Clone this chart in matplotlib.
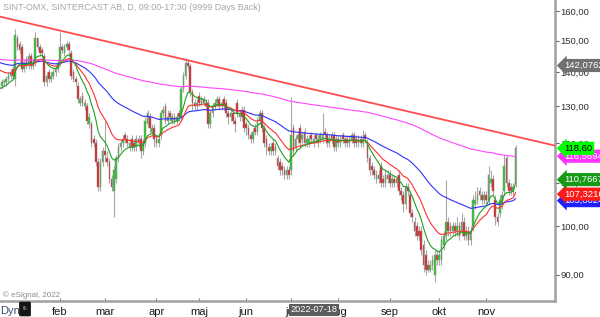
import matplotlib
matplotlib.use('Agg')
import matplotlib.pyplot as plt
import matplotlib.transforms as mtransforms
from matplotlib.patches import FancyBboxPatch
import numpy as np

plt.rcParams['font.family'] = ['Liberation Sans', 'DejaVu Sans']

# daily candles SINT (late Dec 2021 -> 18 Nov 2022)
opens = [135, 136, 137, 137, 138, 139, 141, 138, 151, 149,
         148, 141, 144, 142, 145, 142, 143, 151, 148, 147,
         145, 137, 140, 138, 139, 140, 141, 143, 148, 146,
         148, 149, 146, 140, 138, 136, 131, 133, 130, 130,
         125, 125, 121, 120, 115, 109, 115, 118, 116, 115,
         111, 108, 111, 116, 119, 120, 122, 121, 119, 121,
         120, 119, 121, 121, 118, 120, 125, 127, 123, 124,
         121, 120, 122, 128, 130, 126, 128, 126, 127, 126,
         128, 127, 135, 139, 143, 142, 134, 131, 130, 133,
         131, 132, 131, 131, 125, 128, 130, 131, 132, 130,
         132, 131, 128, 127, 128, 126, 131, 127, 129, 129,
         125, 124, 122, 121, 124, 123, 126, 128, 124, 121,
         119, 118, 120, 118, 116, 115, 114, 113, 112, 113,
         113, 124, 119, 121, 124, 121, 123, 120, 120, 122,
         120, 122, 120, 121, 121, 123, 122, 120, 122, 122,
         119, 121, 120, 122, 121, 121, 120, 121, 122, 121,
         120, 121, 120, 122, 120, 116, 114, 113, 111, 112,
         114, 111, 110, 112, 112, 110, 111, 111, 112, 108,
         107, 105, 109, 107, 103, 101, 100, 99, 99, 96,
         94, 92, 91, 92, 90, 94, 93, 93, 96, 98,
         101, 100, 99, 100, 99, 100, 99, 101, 98, 99,
         97, 100, 105, 106, 108, 107, 106, 107, 106, 110,
         111, 106, 102, 103, 105, 108, 116, 110, 109, 108,
         110]
highs = [137, 138, 138, 139, 140, 141, 142, 154, 152, 150,
         149, 144, 145, 146, 146, 144, 153, 151, 149, 148,
         146, 140, 141, 140, 141, 142, 144, 153, 149, 149,
         150, 150, 147, 141, 139, 137, 133, 134, 132, 131,
         128, 126, 122, 121, 116, 116, 119, 126, 118, 116,
         112, 114, 117, 120, 121, 122, 123, 122, 121, 122,
         121, 122, 122, 122, 121, 127, 129, 128, 125, 125,
         122, 122, 129, 130, 131, 129, 129, 128, 128, 128,
         129, 136, 140, 144.5, 144, 143, 135, 132, 132, 134,
         133, 133, 132, 132, 129, 131, 132, 133, 133, 132,
         133, 132, 129, 129, 129, 127, 132, 129, 130, 130,
         126, 125, 123, 124, 125, 127, 129, 129, 125, 122,
         120, 120, 121, 120, 117, 116, 115, 114, 114, 114,
         132.5, 125, 122, 123, 125, 123, 124, 122, 122, 123,
         122, 123, 122, 123, 128, 124, 123, 122, 123, 123,
         122, 122, 122, 123, 122, 122, 122, 123, 123, 122,
         122, 122, 123.5, 123, 121, 117, 115, 114, 113, 113,
         115, 112, 113, 113, 113, 112, 112, 112, 113, 109,
         108, 110, 110, 108, 104, 102, 101, 100, 100, 97,
         95, 93, 93, 94, 95, 95, 95, 98, 99, 110.7,
         102, 101, 101, 101, 102, 101, 103, 102, 100, 100,
         100, 107, 108, 109, 109, 108, 108, 108, 114, 113,
         112, 107, 103, 107, 108, 117, 117, 111, 110, 110,
         119.5]
lows = [134, 135, 136, 136, 137, 138, 138, 136, 147, 146,
        140, 140, 141, 141, 141, 141, 142, 147, 145, 145,
        136, 136, 137, 137, 138, 139, 140, 142, 146, 145,
        147, 146, 138, 137, 136, 131, 130, 130, 129, 125,
        124, 119, 119, 114, 108, 108, 114, 115, 114, 110,
        108, 102, 110, 115, 118, 119, 120, 119, 118, 118,
        118, 118, 119, 116, 117, 119, 124, 123, 122, 119,
        119, 119, 121, 127, 125, 125, 126, 125, 125, 125,
        126, 126, 134, 138, 141, 133, 129, 129, 129, 130,
        130, 130, 129, 124, 124, 127, 129, 130, 129, 129,
        129, 127, 125, 126, 125, 123, 127, 126, 126, 123,
        122, 121, 120, 120, 122, 122, 125, 123, 119, 117,
        117, 117, 117, 117, 113, 112, 112, 111, 111, 111,
        112, 117, 118, 120, 119, 120, 119, 119, 119, 120,
        119, 120, 119, 120, 120, 121, 119, 119, 120, 118,
        118, 119, 119, 120, 119, 119, 119, 120, 119, 119,
        119, 119, 119, 120, 115, 112, 112, 111, 110, 110,
        109, 109, 109, 110, 109, 109, 109, 109, 107, 106,
        103.3, 104, 107, 102, 101, 98, 97, 97, 94, 90.5,
        90, 90.5, 90.5, 91, 88.6, 92, 92, 92, 95, 97,
        98, 98, 98, 98, 98, 97, 98, 97, 97, 96,
        96, 99, 104, 105, 106, 105, 105, 105, 105, 109,
        107, 100.3, 100, 102, 104, 107, 109, 107, 107, 107,
        109]
closes = [136, 137, 137, 138, 139, 140, 139, 152, 148, 147,
          141, 143, 142, 145, 142, 143, 151, 148, 146, 146,
          137, 139, 138, 139, 140, 141, 143, 148, 147, 148,
          149, 147, 139, 138, 137, 132, 132, 131, 131, 126,
          127, 120, 120, 115, 109, 115, 118, 117, 115, 111,
          109, 113, 116, 119, 120, 121, 121, 120, 120, 119,
          119, 121, 120, 118, 120, 126, 128, 124, 124, 121,
          120, 121, 128, 129, 126, 127, 127, 127, 126, 127,
          127, 135, 139, 143, 142, 134, 131, 130, 131, 131,
          132, 131, 130, 125, 128, 130, 131, 132, 130, 131,
          130, 128, 127, 128, 126, 125, 128, 128, 127, 124,
          124, 122, 121, 123, 123, 126, 128, 124, 120, 119,
          118, 119, 118, 119, 114, 113, 113, 112, 113, 112,
          122, 118, 121, 122, 120, 122, 120, 121, 121, 121,
          121, 121, 121, 122, 122, 122, 120, 121, 121, 119,
          121, 120, 121, 121, 120, 120, 121, 122, 120, 120,
          121, 120, 121, 121, 116, 113, 113, 112, 112, 111,
          110, 110, 112, 111, 110, 111, 110, 110, 108, 107,
          105, 109, 108, 103, 102, 99, 98, 98, 95, 92,
          91, 91, 92, 93, 94, 93, 94, 97, 98, 101,
          99, 99, 100, 99, 100, 98, 101, 98, 99, 97,
          99, 106, 106, 107, 107, 106, 107, 106, 112, 111,
          108, 102, 101, 106, 107, 114, 110, 108, 108, 109,
          118.6]

month_names = ['feb', 'mar', 'apr', 'maj', 'jun', 'jul', 'aug', 'sep', 'okt', 'nov']
month_start = [27, 47, 70, 89, 110, 130, 151, 174, 196, 217]  # bar index of 1st trading day

# moving averages (EMA), start values read at the first bar
ma_spans = [200, 55, 20, 10]
ma_start = [144.0, 143.0, 140.7, 135.0]
ma_colors = ['#ff44ff', '#3030ff', '#ff3030', '#20a020']

# resistance line, two anchor points
trend_x = [0, 247.6]
trend_y = [158.1, 119.3]

# price tags at the right edge
tag_values = [105.80249, 107.32169, 110.76679, 116.56944, 118.60, 142.07620]
tag_texts = ['105,80249', '107,32169', '110,76679', '116,56944', '118,60', '142,07620']
tag_colors = ['#2020ff', '#ff1a1a', '#169a16', '#ff33ff', '#00ff00', '#707070']
tag_fg = ['white', 'white', 'white', 'white', 'black', 'white']

yticks = [90, 100, 110, 120, 130, 140, 150, 160]


def ema(values, span, start):
    a = 2.0 / (span + 1)
    out = [start]
    for v in values[1:]:
        out.append(out[-1] + a * (v - out[-1]))
    return np.array(out)


o = np.array(opens, float)
h = np.array(highs, float)
l = np.array(lows, float)
c = np.array(closes, float)
idx = np.arange(len(c))

fig = plt.figure(figsize=(6, 3.17), dpi=100)
ax = fig.add_axes([0, 16 / 317, 555 / 600, 301 / 317])
ax.set_yscale('log')
ax.set_xlim(0.26, 247.6)
ax.set_ylim(85.0, 163.9)

# candles
ax.vlines(idx, l, h, color='#a8a8a8', lw=0.8, zorder=2)
body_col = np.where(c >= o, '#2ec82e', '#e02020')
bot = np.minimum(o, c)
hgt = np.maximum(np.abs(c - o), 0.3)
ax.bar(idx, hgt, bottom=bot, width=0.75, color=body_col,
       edgecolor='#8c8c8c', linewidth=0.35, zorder=3)

for span, s0, col in zip(ma_spans, ma_start, ma_colors):
    ax.plot(idx, ema(c, span, s0), color=col, lw=0.8, zorder=4)

ax.plot(trend_x, trend_y, color='#ff4c4c', lw=1.3, zorder=5)

# axes styling
for side in ['top', 'left']:
    ax.spines[side].set_visible(False)
for side in ['right', 'bottom']:
    ax.spines[side].set_color('#a0a0a0')
    ax.spines[side].set_linewidth(1.8)
ax.yaxis.tick_right()
ax.set_yticks(yticks)
ax.set_yticklabels(['%d,00' % v for v in yticks])
ax.yaxis.set_minor_locator(matplotlib.ticker.NullLocator())
ax.tick_params(axis='y', which='major', direction='out', length=3, width=0.8,
               color='#606060', labelsize=6.8, labelcolor='#303030', pad=1)
ax.set_xticks(month_start)
ax.set_xticklabels(month_names)
ax.tick_params(axis='x', direction='in', length=2.5, width=0.8, color='#808080',
               labelsize=8, labelcolor='#1a1a1a', pad=4)

# price tags
trans = mtransforms.blended_transform_factory(ax.transAxes, ax.transData)
for val, txt, bg, fg in zip(tag_values, tag_texts, tag_colors, tag_fg):
    ax.text(1.0 + 9 / 555, val, txt, transform=trans, ha='left', va='center',
            fontsize=6.8, color=fg, zorder=10, clip_on=False,
            bbox=dict(boxstyle='larrow,pad=0.22', fc=bg, ec='none'))

fig.text(3 / 600, 1 - 7 / 317, 'SINT-OMX, SINTERCAST AB, D, 09:00-17:30 (9999 Days Back)',
         fontsize=6.5, color='#a6a6a6', va='center', ha='left')
fig.text(3 / 600, 1 - 295 / 317, '\u00a9 eSignal, 2022', fontsize=5.8, color='#8a8a8a',
         va='center', ha='left')
fig.text(0.5 / 600, 1 - 311 / 317, 'Dyn', fontsize=8, color='#3a4a70', va='center', ha='left')
fig.patches.append(FancyBboxPatch((21 / 600, 2 / 317), 8 / 600, 12 / 317,
                                  boxstyle='round,pad=0.002', fc='#151515', ec='#151515',
                                  transform=fig.transFigure, figure=fig))
fig.text(25 / 600, 1 - 309 / 317, 'fb', fontsize=4, color='#9a9a9a', va='center', ha='center')

fig.text(314 / 600, 1 - 310 / 317, '2022-07-18', fontsize=6.6, color='white',
         va='center', ha='center', zorder=20,
         bbox=dict(boxstyle='square,pad=0.18', fc='#5c5c5c', ec='none'))

fig.savefig('out.png', dpi=100)
